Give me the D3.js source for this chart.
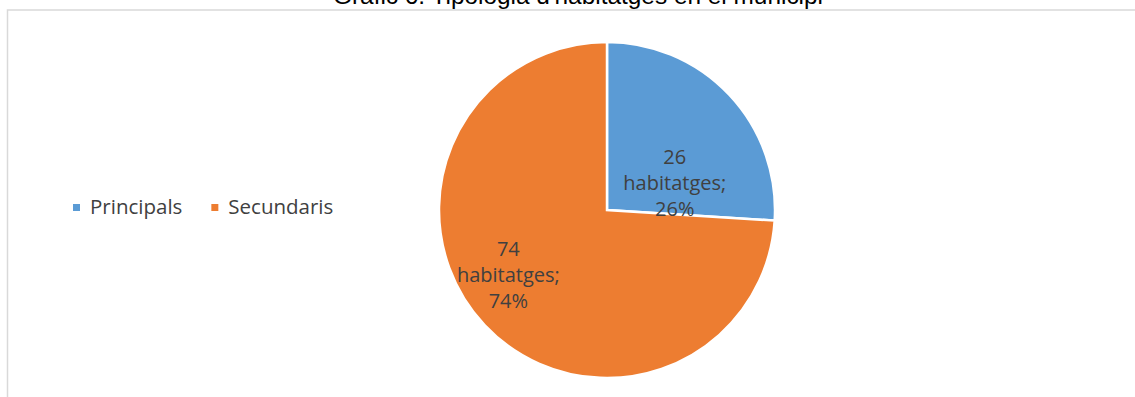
<!DOCTYPE html>
<html>
<head>
<meta charset="utf-8">
<script src="https://cdn.jsdelivr.net/npm/d3@7"></script>
<style>
  body { margin: 0; background: #fff; }
  svg { display: block; }
</style>
</head>
<body>
<svg id="chart"></svg>
<script>
// data
const categories = ["Principals", "Secundaris"];
const values = [26, 74];
const unitLabel = "habitatges";
const colors = ["#5B9BD5", "#ED7D31"];
const title = "Gràfic 6. Tipologia d'habitatges en el municipi";

const width = 1135;
const height = 397;
const cx = 607;
const cy = 210;
const radius = 168;
const textFont = "'Open Sans', sans-serif";

const svg = d3.select("#chart").attr("width", width).attr("height", height);

// frame (cut off on the right and bottom)
svg.append("rect")
    .attr("x", 7.5).attr("y", 10)
    .attr("width", width + 10).attr("height", height + 10)
    .attr("fill", "none")
    .attr("stroke", "#d9d9d9")
    .attr("stroke-width", 1.5);

// title, mostly cut off at the top of the picture
const titleText = svg.append("text")
    .attr("x", 578).attr("y", 4)
    .attr("text-anchor", "middle")
    .style("font-family", "'Liberation Sans', Arial, sans-serif")
    .style("font-size", "20px")
    .attr("fill", "#000")
    .text(title);
// stretch font size so the title spans about 491px like the original
const tlen = titleText.node().getComputedTextLength();
titleText.style("font-size", (20 * 491 / tlen).toFixed(1) + "px");

const total = d3.sum(values);
const pie = d3.pie().sort(null).value(d => d)(values);
const arc = d3.arc().innerRadius(0).outerRadius(radius);

const g = svg.append("g").attr("transform", `translate(${cx},${cy})`);

g.selectAll("path.slice")
    .data(pie)
    .join("path")
    .attr("class", "slice")
    .attr("d", arc)
    .attr("fill", (d, i) => colors[i])
    .attr("stroke", "#fff")
    .attr("stroke-width", 2.5);

// label placement ("best fit" style): radius fraction + angle shift per slice
const labelTweak = [{ r: 0.43, da: 23 }, { r: 0.71, da: 9 }];

const labels = g.selectAll("text.lbl")
    .data(pie)
    .join("text")
    .attr("class", "lbl")
    .attr("text-anchor", "middle")
    .style("font-family", textFont)
    .style("font-size", "20px")
    .attr("fill", "#404040")
    .attr("transform", (d, i) => {
        const a = (d.startAngle + d.endAngle) / 2 + labelTweak[i].da * Math.PI / 180;
        const r = radius * labelTweak[i].r;
        return `translate(${r * Math.sin(a)},${-r * Math.cos(a)})`;
    });

labels.each(function(d) {
    const t = d3.select(this);
    const lines = [String(d.value), unitLabel + ";", Math.round(d.value / total * 100) + "%"];
    lines.forEach((s, k) => {
        t.append("tspan")
            .attr("x", 0)
            .attr("y", (k - 1) * 26 + 5)
            .text(s);
    });
});

// legend
const legend = svg.append("g").attr("transform", "translate(73,207.5)");
let lx = 0;
categories.forEach((c, i) => {
    const item = legend.append("g").attr("transform", `translate(${lx},0)`);
    item.append("rect")
        .attr("x", 0).attr("y", -3.5)
        .attr("width", 7).attr("height", 7)
        .attr("fill", colors[i]);
    const t = item.append("text")
        .attr("x", 17).attr("y", 6.5)
        .style("font-family", textFont)
        .style("font-size", "20.5px")
        .attr("fill", "#404040")
        .text(c);
    lx += 17 + t.node().getComputedTextLength() + 29;
});
</script>
</body>
</html>
